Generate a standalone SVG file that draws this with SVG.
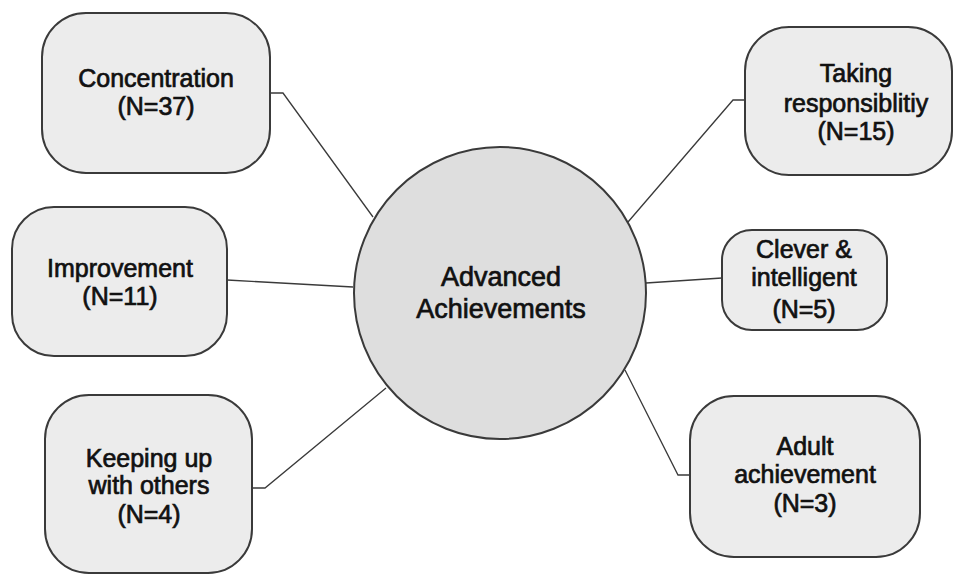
<svg xmlns="http://www.w3.org/2000/svg" width="954" height="576" viewBox="0 0 954 576">
<style>
.box{fill:#ececec;stroke:#3a3a3a;stroke-width:2}
.hub{fill:#dedede;stroke:#3a3a3a;stroke-width:2}
.ln{fill:none;stroke:#3a3a3a;stroke-width:1.3}
text{font-family:"Liberation Sans",Arial,sans-serif;font-size:25px;fill:#111;text-anchor:middle;stroke:#111;stroke-width:0.7}
.big{font-size:27px}
</style>
<rect width="954" height="576" fill="#ffffff"/>
<g id="connectors">
<polyline class="ln" points="270,93 283,93 373,217"/>
<polyline class="ln" points="227,280 353,287"/>
<polyline class="ln" points="252,488 265,488 386,388"/>
<polyline class="ln" points="745,100 733,100 628,222"/>
<polyline class="ln" points="722,278 646,283"/>
<polyline class="ln" points="690,475 678,475 625,370"/>
</g>
<g id="hub">
<circle class="hub" cx="500" cy="293" r="146"/>
<text class="big" x="501" y="286">Advanced</text>
<text class="big" x="501" y="318">Achievements</text>
</g>
<g id="concentration">
<rect class="box" x="42" y="13" width="228" height="160" rx="44"/>
<text x="156" y="87">Concentration</text>
<text x="156" y="115">(N=37)</text>
</g>
<g id="improvement">
<rect class="box" x="12" y="207" width="215" height="149" rx="42"/>
<text x="120" y="277">Improvement</text>
<text x="120" y="305">(N=11)</text>
</g>
<g id="keeping">
<rect class="box" x="45" y="395" width="207" height="178" rx="44"/>
<text x="149" y="467">Keeping up</text>
<text x="149" y="494">with others</text>
<text x="149" y="523">(N=4)</text>
</g>
<g id="taking">
<rect class="box" x="745" y="27" width="207" height="148" rx="44"/>
<text x="856" y="82">Taking</text>
<text x="856" y="112">responsiblitiy</text>
<text x="856" y="140">(N=15)</text>
</g>
<g id="clever">
<rect class="box" x="722" y="230" width="165" height="100" rx="30"/>
<text x="804" y="258">Clever &amp;</text>
<text x="804" y="286">intelligent</text>
<text x="804" y="318">(N=5)</text>
</g>
<g id="adult">
<rect class="box" x="690" y="396" width="230" height="161" rx="44"/>
<text x="805" y="455">Adult</text>
<text x="805" y="483">achievement</text>
<text x="805" y="512">(N=3)</text>
</g>
</svg>
